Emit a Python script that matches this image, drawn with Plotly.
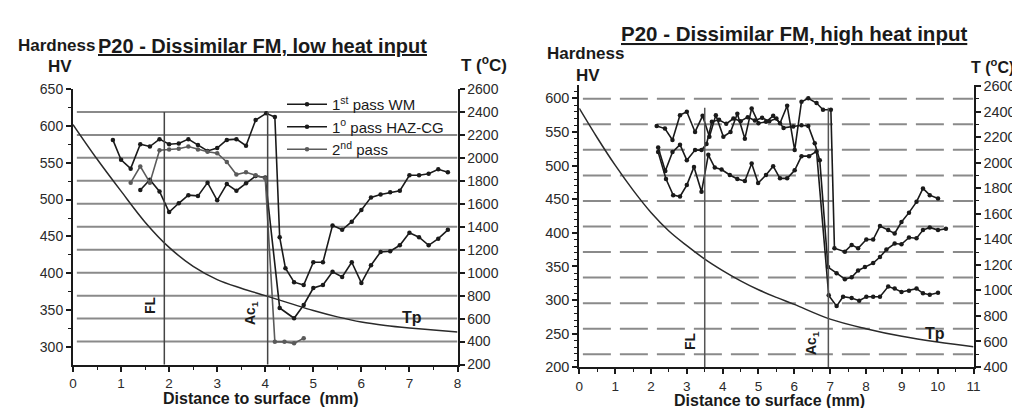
import plotly.graph_objects as go

# the page adds an 8px body margin; the figure is sized and placed to compensate
OFF = 8
W, H = 1020 - OFF, 408 - OFF
def px(x): return (x - OFF) / W
def py(y): return 1 - (y - OFF) / H

FONT = "Liberation Sans, Arial, sans-serif"
INK = "#1a1a1a"

# ---------------- data: left panel (low heat input) ----------------
l_wm_x = [0.83, 1.0, 1.2, 1.4, 1.6, 1.8, 2.0, 2.2, 2.4, 2.6, 2.8, 3.0, 3.2, 3.4, 3.6, 3.8, 4.02, 4.2, 4.3, 4.42,
          4.6, 4.8, 5.0, 5.2, 5.4, 5.6, 5.8, 6.0, 6.2, 6.4, 6.6, 6.8, 7.0, 7.2, 7.4, 7.6, 7.8]
l_wm_hv = [581, 554, 542, 575, 572, 582, 575, 576, 582, 574, 566, 570, 581, 582, 573, 608, 617, 612, 449, 407,
           388, 384, 415, 415, 465, 459, 470, 486, 503, 507, 510, 512, 533, 533, 535, 541, 537]

l_haz_x = [1.4, 1.6, 1.8, 2.0, 2.2, 2.4, 2.6, 2.8, 3.0, 3.2, 3.4, 3.6, 3.8, 4.0, 4.3, 4.6, 4.8, 5.0, 5.2, 5.4,
           5.6, 5.8, 6.0, 6.2, 6.4, 6.6, 6.8, 7.0, 7.2, 7.4, 7.6, 7.8]
l_haz_hv = [513, 527, 511, 483, 495, 506, 505, 523, 499, 521, 512, 522, 532, 530, 353, 339, 357, 380, 384, 402,
            395, 415, 387, 411, 429, 430, 438, 455, 449, 438, 447, 459]

l_p2_x = [1.2, 1.4, 1.6, 1.8, 2.0, 2.2, 2.4, 2.6, 2.8, 3.0, 3.2, 3.4, 3.6, 3.8, 4.0, 4.2, 4.4, 4.6, 4.8]
l_p2_hv = [523, 545, 523, 567, 568, 569, 572, 568, 565, 563, 551, 534, 537, 533, 529, 307, 307, 305, 312]

l_tp_x = [0, 0.5, 1, 1.5, 2, 2.5, 3, 3.5, 4, 4.5, 5, 5.5, 6, 6.5, 7, 7.5, 8]
l_tp_T = [2290, 1990, 1710, 1440, 1220, 1055, 940, 865, 800, 735, 670, 615, 570, 540, 518, 500, 483]

l_grid_T = [400, 600, 800, 1000, 1200, 1400, 1600, 1800, 2000, 2200, 2400]
l_marks = {"FL": 1.9, "Ac1": 4.05}
l_hv_ticks = [300, 350, 400, 450, 500, 550, 600, 650]
l_T_ticks = [200, 400, 600, 800, 1000, 1200, 1400, 1600, 1800, 2000, 2200, 2400, 2600]

# ---------------- data: right panel (high heat input) ----------------
r_a_x = [2.16, 2.39, 2.6, 2.81, 3.0, 3.23, 3.44, 3.63, 3.81, 4.02, 4.22, 4.41, 4.62, 4.81, 5.0, 5.21, 5.41, 5.6,
         5.8, 6.01, 6.2, 6.39, 6.62, 6.8, 7.02, 7.12, 7.41, 7.6, 7.78, 8.01, 8.2, 8.39, 8.62, 8.8, 8.99, 9.2,
         9.41, 9.59, 9.78, 10.01]
r_a_hv = [559, 555, 538, 575, 580, 550, 574, 543, 575, 543, 550, 577, 540, 585, 563, 565, 574, 563,
          589, 523, 595, 600, 593, 583, 583, 377, 372, 382, 377, 390, 390, 410, 404, 399, 416, 430,
          446, 466, 456, 451]

r_b_x = [2.2, 2.4, 2.6, 2.81, 3.0, 3.23, 3.41, 3.55, 3.7, 3.9, 4.1, 4.3, 4.5, 4.7, 4.9, 5.1, 5.3, 5.5, 5.7,
         5.97, 6.2, 6.39, 6.57, 6.71, 6.94, 7.18, 7.41, 7.6, 7.78, 7.97, 8.2, 8.39, 8.57, 8.8, 8.99, 9.2,
         9.41, 9.59, 9.78, 10.01, 10.23]
r_b_hv = [527, 492, 520, 531, 508, 523, 523, 532, 565, 568, 562, 570, 566, 572, 567, 571, 566, 570, 556,
          558, 560, 559, 533, 508, 349, 340, 331, 334, 344, 349, 355, 364, 375, 384, 383, 393,
          392, 404, 408, 404, 406]

r_c_x = [2.2, 2.42, 2.62, 2.81, 3.0, 3.2, 3.41, 3.6, 3.78, 3.97, 4.2, 4.41, 4.62, 4.81, 4.99, 5.21, 5.41, 5.6,
         5.8, 6.01, 6.2, 6.41, 6.62, 6.96, 7.18, 7.36, 7.6, 7.81, 8.01, 8.2, 8.39, 8.62, 8.8, 8.99, 9.2,
         9.41, 9.59, 9.78, 10.01]
r_c_hv = [520, 480, 456, 454, 471, 498, 461, 516, 497, 494, 486, 480, 477, 503, 474, 486, 499, 481,
          481, 493, 514, 514, 521, 307, 291, 305, 303, 299, 305, 305, 305, 320, 317, 312, 314,
          317, 310, 308, 311]

r_tp_x = [0, 0.5, 1, 1.5, 2, 2.5, 3, 3.5, 4, 4.5, 5, 5.5, 6, 7, 8, 9, 10, 11]
r_tp_T = [2425, 2195, 1980, 1785, 1610, 1465, 1350, 1245, 1155, 1075, 1005, 945, 890, 775, 700, 640, 595, 559]

r_grid_T = [500, 700, 900, 1100, 1300, 1500, 1700, 1900, 2100, 2300, 2500]
r_marks = {"FL": 3.5, "Ac1": 6.95}
r_hv_ticks = [200, 250, 300, 350, 400, 450, 500, 550, 600]
r_T_ticks = [400, 600, 800, 1000, 1200, 1400, 1600, 1800, 2000, 2200, 2400, 2600]

names = ["1<sup>st</sup> pass WM", "1<sup>o</sup> pass HAZ-CG", "2<sup>nd</sup> pass"]
colors = [INK, INK, "#5a5a5a"]

fig = go.Figure()

left_series = [(l_wm_x, l_wm_hv), (l_haz_x, l_haz_hv), (l_p2_x, l_p2_hv)]
for i, (xs, ys) in enumerate(left_series):
    fig.add_trace(go.Scatter(x=xs, y=ys, xaxis="x", yaxis="y", mode="lines+markers", name=names[i],
                             legendgroup=f"g{i}", line=dict(color=colors[i], width=1.6),
                             marker=dict(size=4.5, color=colors[i])))
fig.add_trace(go.Scatter(x=l_tp_x, y=l_tp_T, xaxis="x", yaxis="y2", mode="lines", showlegend=False,
                         line=dict(color="#2a2a2a", width=1.5, shape="spline")))

right_series = [(r_a_x, r_a_hv), (r_b_x, r_b_hv), (r_c_x, r_c_hv)]
for i, (xs, ys) in enumerate(right_series):
    fig.add_trace(go.Scatter(x=xs, y=ys, xaxis="x2", yaxis="y3", mode="lines+markers", showlegend=False,
                             line=dict(color=INK, width=1.6), marker=dict(size=4.5, color=INK)))
fig.add_trace(go.Scatter(x=r_tp_x, y=r_tp_T, xaxis="x2", yaxis="y4", mode="lines", showlegend=False,
                         line=dict(color="#2a2a2a", width=1.5, shape="spline")))

shapes = []
for t in l_grid_T:
    shapes.append(dict(type="line", xref="x", yref="y2", x0=0.08, x1=8, y0=t, y1=t, layer="below",
                       line=dict(color="#8a8a8a", width=2)))
for t in r_grid_T:
    shapes.append(dict(type="line", xref="x2", yref="y4", x0=0.1, x1=11, y0=t, y1=t, layer="below",
                       line=dict(color="#8a8a8a", width=2, dash="28px,9px")))
for k, v in l_marks.items():
    shapes.append(dict(type="line", xref="x", yref="y2", x0=v, x1=v, y0=200, y1=2400,
                       line=dict(color="#444", width=1.5)))
for k, v in r_marks.items():
    shapes.append(dict(type="line", xref="x2", yref="y4", x0=v, x1=v, y0=400, y1=2430,
                       line=dict(color="#555", width=1.5)))

def ann(text, x, y, size, bold=True, angle=0, color=INK, xanchor="center"):
    return dict(text=f"<b>{text}</b>" if bold else text, x=px(x), y=py(y), xref="paper", yref="paper",
                showarrow=False, textangle=angle, xanchor=xanchor, yanchor="middle",
                font=dict(family=FONT, size=size, color=color))

annotations = [
    ann("Hardness", 56, 46, 17),
    ann("HV", 60, 66, 17),
    ann("<u>P20 - Dissimilar FM, low heat input</u>", 262, 46, 20),
    ann("T (<sup>o</sup>C)", 484, 64, 17),
    ann("Distance to surface  (mm)", 261, 398.5, 16),
    ann("FL", 150, 305, 14, angle=-90),
    ann("Ac<sub>1</sub>", 251, 313, 14, angle=-90),
    ann("Tp", 412, 317, 16),
    ann("Hardness", 585, 53, 17),
    ann("HV", 588, 75, 17),
    ann("<u>P20 - Dissimilar FM, high heat input</u>", 794, 33, 20.5),
    ann("T (<sup>o</sup>C)", 992, 66, 16),
    ann("Distance to surface (mm)", 769, 400.5, 16),
    ann("FL", 690, 341, 14, angle=-90),
    ann("Ac<sub>1</sub>", 812, 343, 14, angle=-90),
    ann("Tp", 935, 333, 16),
]

tickfont_l = dict(family=FONT, size=14, color="#2a2a2a")
tickfont_r = dict(family=FONT, size=14.5, color="#2a2a2a")
xtickfont_l = dict(family=FONT, size=13.5, color="#2a2a2a")
xtickfont_r = dict(family=FONT, size=13.5, color="#2a2a2a")
axcommon = dict(showline=True, linewidth=2, linecolor=INK, ticks="outside", ticklen=5, tickwidth=1.5,
                tickcolor=INK, showgrid=False, zeroline=False, fixedrange=True, automargin=False)

fig.update_layout(
    template="none",
    width=W, height=H, margin=dict(l=0, r=0, t=0, b=0, autoexpand=False),
    paper_bgcolor="white", plot_bgcolor="white",
    font=dict(family=FONT, color=INK),
    showlegend=True,
    legend=dict(x=px(282), y=py(88), xanchor="left", yanchor="top", bgcolor="rgba(0,0,0,0)",
                font=dict(family=FONT, size=15, color=INK), tracegroupgap=0, itemwidth=40),
    xaxis=dict(domain=[px(73), px(457.5)], range=[0, 8], anchor="y", tickvals=list(range(0, 9)),
               minor=dict(dtick=0.5, ticklen=3, tickwidth=1.2, tickcolor=INK), tickfont=xtickfont_l, **axcommon),
    yaxis=dict(domain=[py(365), py(88.5)], range=[275.6, 650.7], anchor="x", tickvals=l_hv_ticks,
               minor=dict(dtick=25, ticklen=3, tickwidth=1.2, tickcolor=INK), tickfont=tickfont_l, **axcommon),
    yaxis2=dict(overlaying="y", side="right", anchor="x", range=[196, 2604], tickvals=l_T_ticks,
                tickfont=tickfont_l, **axcommon),
    xaxis2=dict(domain=[px(579.3), px(973.5)], range=[0, 11], anchor="y3", tickvals=list(range(0, 12)),
                minor=dict(dtick=0.5, ticklen=3, tickwidth=1.2, tickcolor=INK), tickfont=xtickfont_r, **axcommon),
    yaxis3=dict(domain=[py(367.3), py(85)], range=[200, 619.8], anchor="x2", tickvals=r_hv_ticks,
                minor=dict(dtick=10, ticklen=3, tickwidth=1.2, tickcolor=INK), tickfont=tickfont_r, **axcommon),
    yaxis4=dict(overlaying="y3", side="right", anchor="x2", range=[397.7, 2607.8], tickvals=r_T_ticks,
                minor=dict(dtick=100, ticklen=3, tickwidth=1.2, tickcolor=INK), tickfont=tickfont_r, **axcommon),
    shapes=shapes,
    annotations=annotations,
)

fig.write_html("out.html")
